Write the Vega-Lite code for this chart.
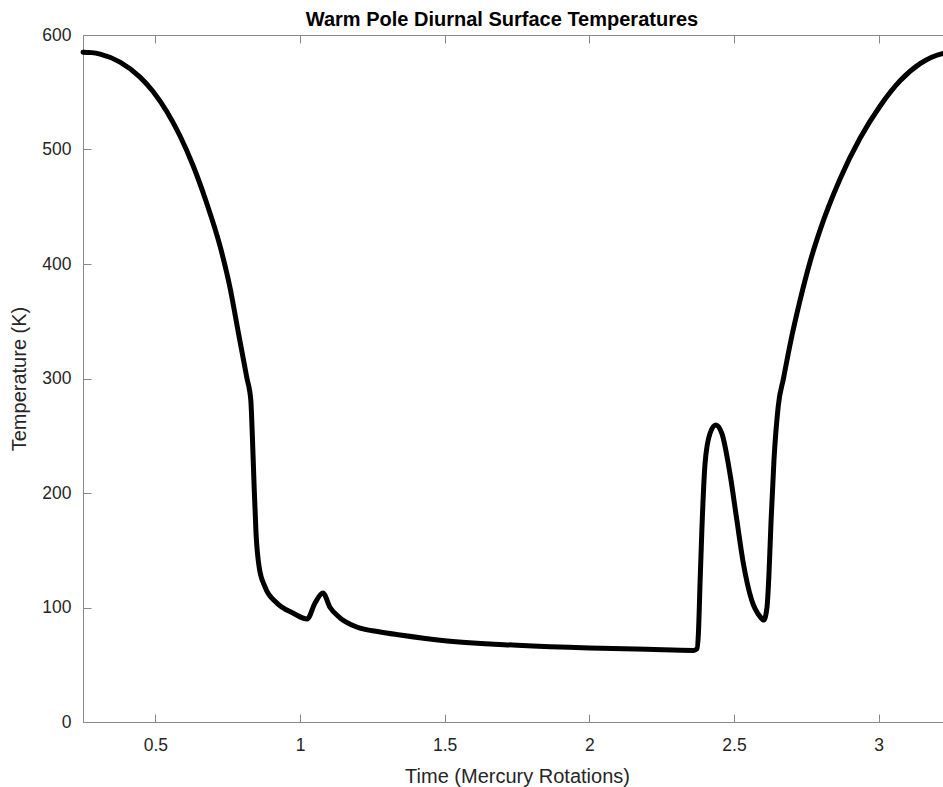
{
  "$schema": "https://vega.github.io/schema/vega-lite/v6.json",
  "width": 868,
  "height": 687,
  "autosize": {"type": "none"},
  "padding": {"left": 83, "top": 35, "right": 0, "bottom": 65},
  "background": "white",
  "title": {"text": "Warm Pole Diurnal Surface Temperatures", "fontSize": 20, "fontWeight": "bold", "font": "Liberation Sans", "color": "#000000", "offset": -4, "dx": -15},
  "config": {
    "view": {"stroke": "#888888", "strokeWidth": 1},
    "axis": {"domainColor": "#888888", "tickColor": "#888888", "tickSize": -8, "grid": false, "labelFont": "Liberation Sans", "labelFontSize": 17.5, "labelColor": "#262626", "titleFont": "Liberation Sans", "titleFontSize": 20, "titleFontWeight": "normal", "titleColor": "#262626"}
  },
  "data": {"values": [
    {"t": 0.25, "T": 585}, {"t": 0.28, "T": 584.6}, {"t": 0.309, "T": 583.3}, {"t": 0.378, "T": 576.3}, {"t": 0.447, "T": 563.2},
    {"t": 0.492, "T": 550.7}, {"t": 0.540, "T": 533}, {"t": 0.585, "T": 512}, {"t": 0.630, "T": 486.2}, {"t": 0.675, "T": 455},
    {"t": 0.724, "T": 415.3}, {"t": 0.758, "T": 379.5}, {"t": 0.787, "T": 340}, {"t": 0.816, "T": 301},
    {"t": 0.830, "T": 281}, {"t": 0.835, "T": 252}, {"t": 0.841, "T": 209}, {"t": 0.848, "T": 165},
    {"t": 0.859, "T": 135}, {"t": 0.879, "T": 118}, {"t": 0.92, "T": 104}, {"t": 0.977, "T": 95}, {"t": 1.025, "T": 90},
    {"t": 1.052, "T": 104}, {"t": 1.079, "T": 112.7}, {"t": 1.104, "T": 100}, {"t": 1.138, "T": 91}, {"t": 1.196, "T": 83},
    {"t": 1.277, "T": 78.6}, {"t": 1.346, "T": 76}, {"t": 1.5, "T": 71}, {"t": 1.75, "T": 67}, {"t": 2.0, "T": 64.6},
    {"t": 2.2, "T": 63.5}, {"t": 2.36, "T": 62.5}, {"t": 2.372, "T": 64}, {"t": 2.377, "T": 77.5}, {"t": 2.383, "T": 124},
    {"t": 2.389, "T": 168}, {"t": 2.400, "T": 226}, {"t": 2.417, "T": 252}, {"t": 2.437, "T": 259.4}, {"t": 2.458, "T": 252},
    {"t": 2.486, "T": 217}, {"t": 2.510, "T": 176}, {"t": 2.532, "T": 139}, {"t": 2.561, "T": 106.5}, {"t": 2.590, "T": 92},
    {"t": 2.603, "T": 89}, {"t": 2.614, "T": 100}, {"t": 2.621, "T": 130}, {"t": 2.628, "T": 175}, {"t": 2.638, "T": 228},
    {"t": 2.653, "T": 276}, {"t": 2.671, "T": 300}, {"t": 2.694, "T": 330}, {"t": 2.728, "T": 368}, {"t": 2.763, "T": 402},
    {"t": 2.798, "T": 430}, {"t": 2.866, "T": 474}, {"t": 2.936, "T": 510}, {"t": 3.005, "T": 538}, {"t": 3.074, "T": 560},
    {"t": 3.143, "T": 575}, {"t": 3.223, "T": 584}, {"t": 3.25, "T": 585}
  ]},
  "layer": [
    {
      "mark": {"type": "line", "color": "#000000", "strokeWidth": 5, "interpolate": "monotone", "strokeJoin": "round", "strokeCap": "round"},
      "encoding": {
        "x": {"field": "t", "type": "quantitative", "scale": {"domain": [0.25, 3.25], "nice": false, "zero": false},
              "axis": {"orient": "bottom", "title": "Time (Mercury Rotations)", "values": [0.5, 1, 1.5, 2, 2.5, 3], "format": "~g", "labelPadding": 22, "titlePadding": 13, "labelFlush": false}},
        "y": {"field": "T", "type": "quantitative", "scale": {"domain": [0, 600], "nice": false},
              "axis": {"orient": "left", "title": "Temperature (K)", "values": [0, 100, 200, 300, 400, 500, 600], "labelPadding": 20, "titlePadding": 12, "labelFlush": false}}
      }
    },
    {
      "mark": {"type": "line", "opacity": 0},
      "encoding": {
        "x": {"field": "t", "type": "quantitative", "axis": {"orient": "top", "title": null, "labels": false, "domain": false, "values": [0.5, 1, 1.5, 2, 2.5, 3]}},
        "y": {"field": "T", "type": "quantitative", "axis": {"orient": "right", "title": null, "labels": false, "domain": false, "values": [0, 100, 200, 300, 400, 500, 600]}}
      }
    }
  ],
  "resolve": {"axis": {"x": "independent", "y": "independent"}}
}
